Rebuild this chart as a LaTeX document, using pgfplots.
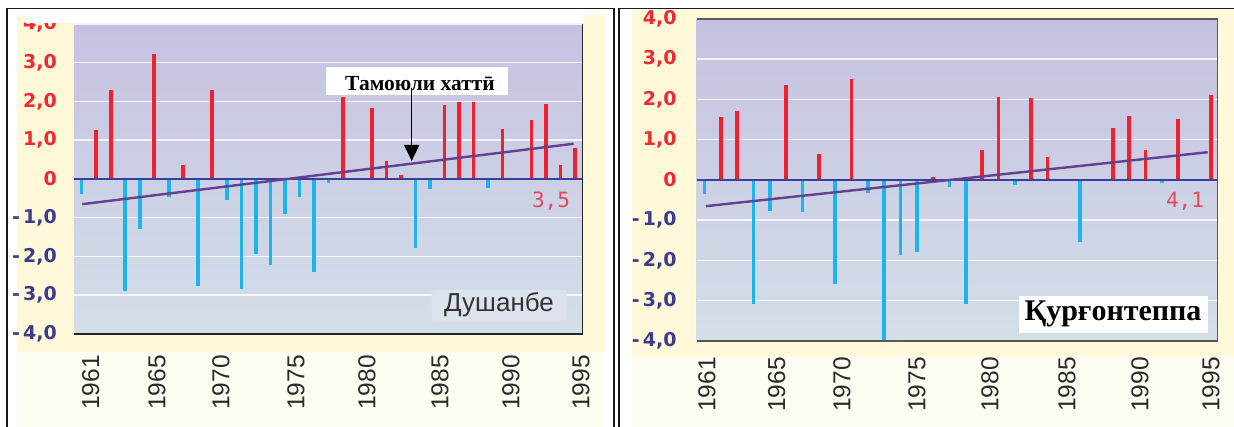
\documentclass[border=0pt]{standalone}
\usepackage{fontspec}
\setmainfont{Liberation Sans}
\newfontfamily\timesb{Liberation Serif}
\newfontfamily\dejavu{DejaVu Sans}
\newfontfamily\monof{DejaVu Sans Mono}
\usepackage{pgfplots}
\pgfplotsset{compat=1.18}
\usetikzlibrary{arrows.meta}

\definecolor{posred}{HTML}{F0202C}
\definecolor{negblue}{HTML}{1CB4EC}
\definecolor{trend}{HTML}{65408E}
\definecolor{zeroline}{HTML}{3B3E9C}
\definecolor{bgtop}{HTML}{C5C1E1}
\definecolor{bgbot}{HTML}{D3DFE8}
\definecolor{cream}{HTML}{FFF9DA}
\definecolor{creamlt}{HTML}{FFFDF2}
\definecolor{labred}{HTML}{EE2A30}
\definecolor{labblue}{HTML}{3D3B8E}
\definecolor{tick}{HTML}{2A2A2A}
\definecolor{numred}{HTML}{E8455E}
\definecolor{boxc}{HTML}{DCE3EE}

\pgfplotsset{
  anomaly/.style={
    scale only axis,
    ymin=-4, ymax=4,
    ytick={-4,-3,...,4},
    yticklabels={{\color{labblue}-\,4,0},{\color{labblue}-\,3,0},{\color{labblue}-\,2,0},{\color{labblue}-\,1,0},{\color{labred}0},{\color{labred}1,0},{\color{labred}2,0},{\color{labred}3,0},{\color{labred}4,0}},
    xticklabels={1961,1965,1970,1975,1980,1985,1990,1995},
    major tick length=0pt,
    axis line style={draw=none},
    ymajorgrids,
    grid style={white, line width=1.5pt, opacity=0.8},
    axis background/.style={top color=bgtop, bottom color=bgbot},
    xticklabel style={rotate=90, anchor=east, inner sep=0pt, font=\fontsize{24.5}{24.5}\selectfont, text=tick},
    yticklabel style={anchor=east, inner sep=0pt, font=\dejavu\bfseries\fontsize{19}{19}\selectfont},
    clip=false,
  },
  pos/.style={ycomb, draw=posred, line width=3.6pt},
  neg/.style={ycomb, draw=negblue, line width=3.6pt},
}

\begin{document}
\begin{tikzpicture}
\useasboundingbox (0,0) rectangle (1234pt,427pt);
\begin{scope}[x=1pt,y=-1pt,shift={(0pt,427pt)}]
  \fill[white] (0,0) rectangle (1234,427);
  \fill[cream] (17,15) rectangle (605,352);
  \fill[creamlt] (17,352) rectangle (605,427);
  \fill[cream] (632,10) rectangle (1234,356);
  \fill[creamlt] (632,356) rectangle (1234,427);
\end{scope}

% Dushanbe
\begin{axis}[anomaly, at={(74pt,93pt)}, anchor=south west,
  width=508.3pt, height=310pt,
  xmin=-0.53, xmax=34.5,
  xtick={0.62,5.19,9.60,14.77,19.66,24.69,29.59,34.41},
  xticklabel shift=21pt, yticklabel shift=17pt]
\addplot[pos] coordinates {(1,1.27) (2,2.29) (5,3.22) (7,0.35) (9,2.29) (18,2.12)
  (19,0.03) (20,1.84) (21,0.46) (22,0.11) (25,1.90) (26,1.99) (27,1.99) (29,1.30)
  (30,0.02) (31,1.53) (32,1.93) (33,0.37) (34,0.79)};
\addplot[neg] coordinates {(0,-0.40) (3,-2.88) (4,-1.30) (6,-0.46) (8,-2.77) (10,-0.54)
  (11,-2.83) (12,-1.93) (13,-2.23) (14,-0.91) (15,-0.46) (16,-2.40) (17,-0.11)
  (23,-1.78) (24,-0.26) (28,-0.23)};
\draw[zeroline, line width=1.3pt] (rel axis cs:0,0.5) -- (rel axis cs:1,0.5);
\addplot[trend, line width=2.4pt] coordinates {(0.04,-0.65) (33.9,0.91)};
\draw[black!85, line width=1.6pt] (rel axis cs:0,0) -- (rel axis cs:1,0) -- (rel axis cs:1,1);
\end{axis}

% Qurghonteppa
\begin{axis}[anomaly, at={(696.7pt,86pt)}, anchor=south west,
  width=520.8pt, height=322pt,
  xmin=-0.47, xmax=31.4,
  xtick={0.15,4.43,8.41,13.0,17.48,22.18,26.66,31.0},
  xticklabel shift=16pt, yticklabel shift=20pt]
\addplot[pos] coordinates {(1,1.56) (2,1.72) (5,2.35) (7,0.65) (9,2.51) (14,0.07)
  (17,0.75) (18,2.07) (20,2.03) (21,0.56) (25,1.29) (26,1.60) (27,0.75) (29,1.52) (31,2.10)};
\addplot[neg] coordinates {(0,-0.35) (3,-3.08) (4,-0.76) (6,-0.79) (8,-2.59) (10,-0.32)
  (11,-4.00) (12,-1.87) (13,-1.78) (15,-0.18) (16,-3.07) (19,-0.12) (23,-1.53) (28,-0.08)};
\draw[zeroline, line width=1.3pt] (rel axis cs:0,0.5) -- (rel axis cs:1,0.5);
\addplot[trend, line width=2.4pt] coordinates {(0.09,-0.65) (30.8,0.69)};
\draw[black!65, line width=1.8pt] (rel axis cs:0,1) -- (rel axis cs:1,1) -- (rel axis cs:1,0) -- (rel axis cs:0,0);
\end{axis}

\begin{scope}[x=1pt,y=-1pt,shift={(0pt,427pt)}]
  \draw[black!90, line width=1.3pt] (7,427) -- (7,8.3) -- (614,8.3) -- (614,427);
  \draw[black!90, line width=1.3pt] (619,427) -- (619,8.3) -- (1234,8.3);
  \fill[white] (25,9.5) rectangle (583,23);
  % trend label and arrow
  \fill[white] (326,67) rectangle (508,95);
  \node[font=\timesb\bfseries\fontsize{21.5}{21.5}\selectfont, inner sep=0pt] at (420,84) {Тамоюли хаттӣ};
  \draw[black, line width=1.5pt, -{Triangle[length=16pt,width=15pt]}] (411.7,90) -- (411.7,161);
  % numbers
  \node[font=\monof\fontsize{21}{21}\selectfont, text=numred, inner sep=0pt] at (551,201) {3,5};
  \node[font=\monof\fontsize{21}{21}\selectfont, text=numred, inner sep=0pt] at (1185,201) {4,1};
  % station names
  \fill[boxc, rounded corners=3pt] (431.7,290) rectangle (566.7,320.7);
  \node[font=\fontsize{26}{26}\selectfont, text=black!80, inner sep=0pt] at (499,305) {Душанбе};
  \fill[white] (1019,296) rectangle (1208,333);
  \node[font=\timesb\bfseries\fontsize{30}{30}\selectfont, inner sep=0pt] at (1113,314) {Қурғонтеппа};
\end{scope}
\end{tikzpicture}
\end{document}
